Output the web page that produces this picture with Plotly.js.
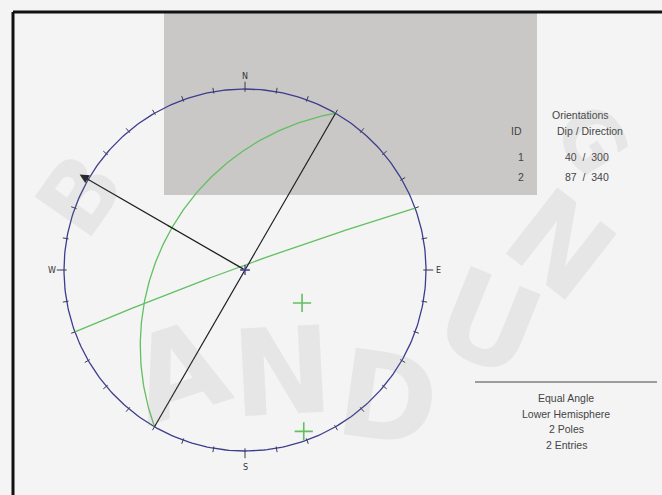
<!DOCTYPE html>
<html>
<head>
<meta charset="utf-8">
<script src="https://cdn.plot.ly/plotly-3.0.1.min.js"></script>
<style>html,body{margin:0;padding:0;background:#f4f4f4;}#chart{width:662px;height:495px;}</style>
</head>
<body>
<div id="chart"></div>
<script>
// ---- data ----
const planeIds = [1, 2];
const dips = [40, 87];
const dipDirections = [300, 340];
const cardinalLabels = ['N', 'E', 'S', 'W'];
const cardinalAzimuths = [0, 90, 180, 270];
const infoLines = ['Equal Angle', 'Lower Hemisphere', '2 Poles', '2 Entries'];
const watermarkLetters = ['B', 'A', 'N', 'D', 'U', 'N', 'G'];

// ---- geometry (pixel frame of the picture) ----
const W = 662, H = 495, CX = 245, CY = 270, RP = 181;
const d2r = Math.PI / 180;
function px(x) { return x / W; }
function py(y) { return 1 - y / H; }
// equal-angle lower hemisphere projection of trend/plunge (deg)
function proj(trend, plunge) {
  const r = Math.tan((90 - plunge) / 2 * d2r);
  return [r * Math.sin(trend * d2r), r * Math.cos(trend * d2r)];
}
function polar(az, r) { return [r * Math.sin(az * d2r), r * Math.cos(az * d2r)]; }

const traces = [];
// primitive circle
const cx = [], cy = [];
for (let a = 0; a <= 360; a += 1) { const p = polar(a, 1); cx.push(p[0]); cy.push(p[1]); }
traces.push({x: cx, y: cy, mode: 'lines', line: {color: '#3d3d8e', width: 1.3}, hoverinfo: 'skip'});
// ticks every 10 degrees
const tx = [], ty = [];
for (let a = 0; a < 360; a += 10) {
  const long = cardinalAzimuths.includes(a);
  const p1 = polar(a, long ? 0.985 : 0.99), p2 = polar(a, long ? 1.04 : 1.022);
  tx.push(p1[0], p2[0], null); ty.push(p1[1], p2[1], null);
}
traces.push({x: tx, y: ty, mode: 'lines', line: {color: '#3a3a55', width: 1}, hoverinfo: 'skip'});

// great circles
const green = '#62bf62';
dips.forEach((dip, i) => {
  const dd = dipDirections[i];
  const s = (dd - 90) * d2r;
  const sv = [Math.cos(s), Math.sin(s), 0];
  const dv = [Math.cos(dip * d2r) * Math.cos(dd * d2r), Math.cos(dip * d2r) * Math.sin(dd * d2r), Math.sin(dip * d2r)];
  const gx = [], gy = [];
  for (let t = 0; t <= 180; t += 1) {
    const c = Math.cos(t * d2r), sn = Math.sin(t * d2r);
    const v = [c * sv[0] + sn * dv[0], c * sv[1] + sn * dv[1], Math.max(0, c * sv[2] + sn * dv[2])];
    const pl = Math.asin(Math.min(1, v[2])) / d2r;
    const tr = Math.atan2(v[1], v[0]) / d2r;
    const p = proj(tr, pl); gx.push(p[0]); gy.push(p[1]);
  }
  traces.push({x: gx, y: gy, mode: 'lines', line: {color: green, width: 1.3}, hoverinfo: 'skip'});
});

// poles
const poleX = [], poleY = [];
dips.forEach((dip, i) => { const p = proj((dipDirections[i] + 180) % 360, 90 - dip); poleX.push(p[0]); poleY.push(p[1]); });
traces.push({x: poleX, y: poleY, mode: 'markers', marker: {symbol: 'cross-thin', size: 13, line: {color: green, width: 1.6}}, hoverinfo: 'skip'});

// strike line of plane 1 (black)
const sA = polar(dipDirections[0] + 90, 1), sB = polar(dipDirections[0] - 90, 1);
traces.push({x: [sA[0], sB[0]], y: [sA[1], sB[1]], mode: 'lines', line: {color: '#1e1e1e', width: 1.2}, hoverinfo: 'skip'});
// dip vector tick on the great circle of plane 1
const dvp = proj(dipDirections[0], dips[0]);
traces.push({x: [dvp[0]], y: [dvp[1]], mode: 'markers', marker: {symbol: 'line-ns', size: 7, angle: dipDirections[0], line: {color: green, width: 1.3}}, hoverinfo: 'skip'});
// centre mark
traces.push({x: [0], y: [0], mode: 'markers', marker: {symbol: 'cross-thin', size: 7, line: {color: '#3d3d8e', width: 1.3}}, hoverinfo: 'skip'});

const annotations = [];
const arrowTip = polar(dipDirections[0], 1.055);
annotations.push({x: arrowTip[0], y: arrowTip[1], ax: 0, ay: 0, xref: 'x', yref: 'y', axref: 'x', ayref: 'y',
  text: '', showarrow: true, arrowhead: 2, arrowsize: 1.4, arrowwidth: 1.3, arrowcolor: '#1e1e1e'});
cardinalLabels.forEach((lab, i) => {
  const p = polar(cardinalAzimuths[i], cardinalAzimuths[i] === 180 ? 1.09 : 1.068);
  annotations.push({x: p[0], y: p[1], xref: 'x', yref: 'y', text: lab, showarrow: false,
    font: {family: 'DejaVu Sans', size: 8, color: '#333'}, xanchor: 'center', yanchor: 'middle'});
});
const tf = {family: 'Liberation Sans', size: 10.5, color: '#444'};
function txt(x, y, t) { annotations.push({x: px(x), y: py(y), xref: 'paper', yref: 'paper', text: t, showarrow: false, font: tf, xanchor: 'center', yanchor: 'middle'}); }
txt(580, 115, 'Orientations');
txt(516, 131, 'ID');
txt(590, 131, 'Dip / Direction');
planeIds.forEach((id, i) => {
  const y = 157 + i * 20;
  txt(521, y, String(id));
  txt(587, y, dips[i] + '  /  ' + dipDirections[i]);
});
infoLines.forEach((t, i) => txt(566, 398 + i * 15.5, t));

// watermark letters (faint)
const wmPos = [[80, 195, -55, 95], [178, 372, -18, 120], [282, 372, -3, 120], [388, 398, 8, 120], [488, 322, 22, 120], [560, 245, 38, 115], [592, 140, 58, 80]];
watermarkLetters.forEach((l, i) => {
  const p = wmPos[i];
  annotations.push({x: px(p[0]), y: py(p[1]), xref: 'paper', yref: 'paper', text: '<b>' + l + '</b>', showarrow: false, textangle: p[2],
    font: {family: 'DejaVu Sans', size: p[3], color: 'rgba(130,130,130,0.12)'}, xanchor: 'center', yanchor: 'middle'});
});

const shapes = [
  {type: 'rect', xref: 'paper', yref: 'paper', x0: px(164), x1: px(537), y0: py(195), y1: py(13), fillcolor: '#c9c8c6', line: {width: 0}, layer: 'below'},
  {type: 'line', xref: 'paper', yref: 'paper', x0: px(13), x1: 1, y0: py(12), y1: py(12), line: {color: '#111', width: 3}},
  {type: 'line', xref: 'paper', yref: 'paper', x0: px(13), x1: px(13), y0: py(12), y1: 0, line: {color: '#111', width: 3}},
  {type: 'line', xref: 'paper', yref: 'paper', x0: px(475), x1: px(657), y0: py(382), y1: py(382), line: {color: '#444', width: 1.2}}
];

const layout = {
  width: W, height: H, margin: {l: 0, r: 0, t: 0, b: 0},
  paper_bgcolor: '#f4f4f4', plot_bgcolor: 'rgba(0,0,0,0)', showlegend: false,
  xaxis: {range: [-CX / RP, (W - CX) / RP], visible: false, fixedrange: true},
  yaxis: {range: [-(H - CY) / RP, CY / RP], visible: false, fixedrange: true},
  annotations: annotations, shapes: shapes
};
Plotly.newPlot('chart', traces, layout, {displayModeBar: false, staticPlot: true});
</script>
</body>
</html>
